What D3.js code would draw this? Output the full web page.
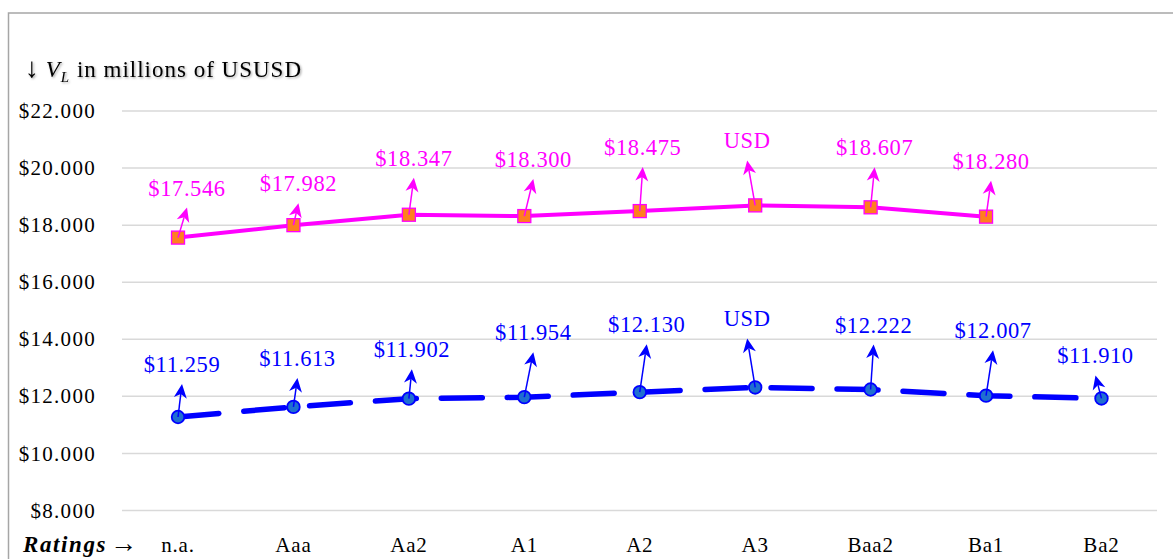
<!DOCTYPE html>
<html>
<head>
<meta charset="utf-8">
<script src="https://cdn.jsdelivr.net/npm/d3@7"></script>
<style>
  html, body { margin: 0; padding: 0; background: #fff; }
  svg { display: block; font-family: "Liberation Serif", "Times New Roman", serif; }
</style>
</head>
<body>
<svg id="chart" width="1173" height="559"></svg>
<script>
// Ratings on the x axis
const ratings = ["n.a.", "Aaa", "Aa2", "A1", "A2", "A3", "Baa2", "Ba1", "Ba2"];

// V_L in millions of USD, upper series (no value for Ba2)
const upperValues = [17.546, 17.982, 18.347, 18.300, 18.475, 18.675, 18.607, 18.280, null];
// V_L in millions of USD, lower series
const lowerValues = [11.259, 11.613, 11.902, 11.954, 12.130, 12.295, 12.222, 12.007, 11.910];

// Labels that show text instead of the formatted value
const upperLabelText = [null, null, null, null, null, "USD", null, null, null];
const lowerLabelText = [null, null, null, null, null, "USD", null, null, null];

// Y axis ticks
const yTicks = [8, 10, 12, 14, 16, 18, 20, 22];

// Callout placement (label centre / baseline offset from its point, px)
const upperNudge = [[9, -42], [5, -34], [5, -49], [9, -49], [3, -56], [-8, -57], [4, -52], [5, -48], null];
const lowerNudge = [[4, -45], [4, -41], [3, -41.5], [9, -57], [7, -60], [-8, -61], [3, -57], [7, -57.5], [-6, -35]];

const svg = d3.select("#chart");
const fmt = d3.format("$.3f");

const x = d3.scaleBand().domain(ratings).range([120.3, 1159.2]);
const y = d3.scaleLinear().domain([8, 22]).range([510, 110.5]);
const cx = d => x(d) + x.bandwidth() / 2;

// soft shadow for the title
const defs = svg.append("defs");
defs.append("filter").attr("id", "titleShadow").attr("x", "-5%").attr("y", "-20%").attr("width", "110%").attr("height", "150%")
  .append("feDropShadow").attr("dx", 1.2).attr("dy", 1.2).attr("stdDeviation", 0.9)
  .attr("flood-color", "#000").attr("flood-opacity", 0.35);

// chart frame
svg.append("path")
  .attr("d", "M8.5,570 L8.5,13 L1180,13")
  .attr("fill", "none").attr("stroke", "#a6a6a6").attr("stroke-width", 1.5);

// gridlines and value axis
const yAxis = d3.axisLeft(y).tickValues(yTicks).tickSize(-(1157 - 122)).tickFormat(fmt).tickPadding(26);
const gy = svg.append("g").attr("transform", "translate(122,0)").call(yAxis);
gy.select(".domain").remove();
gy.selectAll(".tick line").attr("stroke", "#d9d9d9").attr("stroke-width", 1.5);
gy.selectAll(".tick text")
  .attr("fill", "#000").attr("font-size", 21).attr("letter-spacing", "1.3px")
  .attr("font-family", "Liberation Serif, serif")
  .attr("dy", "0.34em");

// category axis
const xAxis = d3.axisBottom(x).tickSize(0).tickPadding(0);
const gx = svg.append("g").attr("transform", "translate(0,552)").call(xAxis);
gx.select(".domain").remove();
gx.selectAll(".tick text")
  .attr("fill", "#000").attr("font-size", 21).attr("letter-spacing", "0.8px")
  .attr("font-family", "Liberation Serif, serif")
  .attr("dy", 0).attr("y", 0);

// axis captions
const cap = svg.append("text").attr("x", 23).attr("y", 552).attr("font-size", 23);
cap.append("tspan").attr("font-weight", "bold").attr("font-style", "italic")
  .attr("letter-spacing", "1.6px").text("Ratings");
cap.append("tspan").attr("dx", 3).attr("font-size", 27).text("\u2192");

const title = svg.append("text").attr("x", 25).attr("y", 77)
  .attr("font-size", 23).attr("letter-spacing", "1px").attr("filter", "url(#titleShadow)");
title.append("tspan").attr("font-size", 28).attr("letter-spacing", "0px").text("\u2193");
title.append("tspan").text(" ");
title.append("tspan").attr("font-style", "italic").text("V");
title.append("tspan").attr("font-style", "italic").attr("font-size", 15).attr("dy", 5).text("L");
title.append("tspan").attr("dy", -5).text(" in millions of USUSD");

function drawSeries(values, labelText, nudge, opt) {
  const pts = ratings.map((r, i) => ({ r, v: values[i], i })).filter(d => d.v != null);
  const g = svg.append("g");

  const line = d3.line().x(d => cx(d.r)).y(d => y(d.v));
  g.append("path").datum(pts)
    .attr("d", line)
    .attr("fill", "none")
    .attr("stroke", opt.color)
    .attr("stroke-width", opt.lineWidth)
    .attr("stroke-linecap", "round")
    .attr("stroke-linejoin", "round")
    .attr("stroke-dasharray", opt.dash || null);

  // markers
  if (opt.marker === "square") {
    g.selectAll("rect.mk").data(pts).join("rect")
      .attr("x", d => cx(d.r) - 6.5).attr("y", d => y(d.v) - 6.5)
      .attr("width", 13).attr("height", 13)
      .attr("fill", opt.fill).attr("stroke", opt.color).attr("stroke-width", 1.3);
  } else {
    g.selectAll("circle.mk").data(pts).join("circle")
      .attr("cx", d => cx(d.r)).attr("cy", d => y(d.v)).attr("r", 6.3)
      .attr("fill", opt.fill).attr("stroke", opt.color).attr("stroke-width", 1.8);
  }

  // callout arrows and labels
  pts.forEach(d => {
    const mx = cx(d.r), my = y(d.v);
    const [dx, dy] = nudge[d.i];
    const lx = mx + dx, ly = my + dy;
    const tx = lx, ty = ly + 12;
    const ang = Math.atan2(ty - my, tx - mx);
    const back = 10;
    g.append("line")
      .attr("x1", mx).attr("y1", my)
      .attr("x2", tx - back * Math.cos(ang)).attr("y2", ty - back * Math.sin(ang))
      .attr("stroke", opt.color).attr("stroke-width", 1.5);
    g.append("path")
      .attr("d", "M0,0 L-14,-6.5 L-10,0 L-14,6.5 Z")
      .attr("transform", `translate(${tx},${ty}) rotate(${ang * 180 / Math.PI})`)
      .attr("fill", opt.color);
    g.append("text")
      .attr("x", lx).attr("y", ly)
      .attr("text-anchor", "middle")
      .attr("font-size", 22.5).attr("letter-spacing", "0.6px")
      .attr("fill", opt.color)
      .text(labelText[d.i] != null ? labelText[d.i] : fmt(d.v));
  });
}

drawSeries(upperValues, upperLabelText, upperNudge,
  { color: "#ff00ff", fill: "#ff7f1f", lineWidth: 4, marker: "square" });
drawSeries(lowerValues, lowerLabelText, lowerNudge,
  { color: "#0000ff", fill: "#1f6fd0", lineWidth: 5.5, dash: "41,25", marker: "circle" });
</script>
</body>
</html>
